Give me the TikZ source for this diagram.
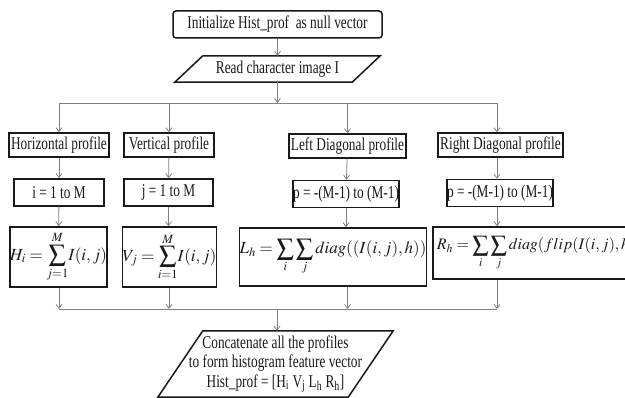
\documentclass[tikz,border=0pt]{standalone}
\usepackage{mathptmx}
\usepackage[no-math]{fontspec}
\setmainfont{Liberation Serif}[FakeStretch=0.74]
\usetikzlibrary{arrows.meta,calc}
\begin{document}
\begin{tikzpicture}[x=1pt,y=-1pt,
  box/.style={draw=black!90, line width=1.5pt, inner sep=0pt, text=black!90,
    font=\fontsize{18}{20}\selectfont},
  mbox/.style={box, font=\fontsize{17}{20}\selectfont},
  plain/.style={inner sep=0pt, text=black!90, font=\fontsize{18}{19.5}\selectfont, align=center},
  conn/.style={draw=black!50, line width=0.8pt},
  arr/.style={conn, -{Straight Barb[length=4pt,width=6pt]}}]
\path[use as bounding box] (0,0) rectangle (625,398);
\clip (0,0) rectangle (625,398);

% top
\node[box, rounded corners=3pt, minimum width=209, minimum height=27] (init) at (277.5,24.5) {Initialize Hist\_prof\ \ as null vector};
\node[plain, minimum width=177, minimum height=26] (read) at (277.5,69) {Read character image I};
\draw[line width=1.5pt, black!90] ($(read.south west)+(-14,0)$) -- ($(read.north west)+(14,0)$) -- ($(read.north east)+(14,0)$) -- ($(read.south east)+(-14,0)$) -- cycle;

% profiles
\node[box, minimum width=100, minimum height=24] (hp) at (59,145) {Horizontal profile};
\node[box, minimum width=90, minimum height=24] (vp) at (169,145) {Vertical profile};
\node[box, minimum width=117, minimum height=24] (ld) at (347.5,146) {Left Diagonal profile};
\node[box, minimum width=125, minimum height=24] (rd) at (500.5,145) {Right Diagonal profile};

% loops
\node[box, minimum width=90, minimum height=27] (lp1) at (59,192.5) {i = 1 to M};
\node[box, minimum width=89, minimum height=27] (lp2) at (168.5,192.5) {j = 1 to M};
\node[box, minimum width=106, minimum height=27] (lp3) at (346,194) {p = -(M-1) to (M-1)};
\node[box, minimum width=106, minimum height=27] (lp4) at (500,193) {p = -(M-1) to (M-1)};

% formulas
\node[mbox, minimum width=93, minimum height=60] (fh) at (58.5,257) {$\displaystyle H_i=\sum_{j=1}^{M}\! I(i,j)$};
\node[mbox, minimum width=91, minimum height=60] (fv) at (169.5,257) {$\displaystyle V_j=\sum_{i=1}^{M}\! I(i,j)$};
\node[mbox, minimum width=180, minimum height=58] (fl) at (333,257) {$\displaystyle L_h=\sum_{i}\sum_{j} diag((I(i,j),h))$};
\node[mbox, font=\fontsize{16}{19}\selectfont, anchor=west, inner xsep=4pt, minimum height=52] (fr) at (432,253) {$\displaystyle R_h=\sum_{i}\sum_{j} diag(flip(I(i,j),h))$};

% bottom
\node[plain, minimum width=190, minimum height=66] (conc) at (275.5,364) {Concatenate all the profiles\\to form histogram feature vector\\Hist\_prof = [H\textsubscript{i} V\textsubscript{j} L\textsubscript{h} R\textsubscript{h}]};
\draw[line width=1.5pt, black!90] ($(conc.south west)+(-22.5,0)$) -- ($(conc.north west)+(22.5,0)$) -- ($(conc.north east)+(22.5,0)$) -- ($(conc.south east)+(-22.5,0)$) -- cycle;

% connectors
\coordinate (b1m) at (277.5,103);
\coordinate (b1l) at (59,103);
\coordinate (b1r) at (497,103);
\coordinate (b2m) at (277,309);
\coordinate (b2l) at (59,309);
\coordinate (b2r) at (497,309);

\draw[arr] (init) -- (read);
\draw[arr] (read.south) -- (b1m);
\draw[conn] (b1l) -- (b1r);
\draw[arr] (b1l) -- (b1l |- hp.north);
\draw[arr] (vp.north |- b1l) -- (vp.north);
\draw[arr] (ld.north |- b1l) -- (ld.north);
\draw[arr] (b1r) -- (b1r |- rd.north);

\draw[arr] (hp) -- (lp1);
\draw[arr] (vp) -- (lp2);
\draw[arr] (ld) -- (lp3);
\draw[arr] (b1r |- rd.south) -- (b1r |- lp4.north);

\draw[arr] (lp1) -- (fh);
\draw[arr] (lp2) -- (fv.north -| lp2);
\draw[arr] (lp3) -- (fl.north -| lp3);
\draw[arr] (b1r |- lp4.south) -- (b1r |- fr.north);

\draw[conn] (b2l) -- (b2r);
\draw[arr] (b2l |- fh.south) -- (b2l);
\draw[arr] (vp.south |- fv.south) -- (vp.south |- b2l);
\draw[arr] (ld.south |- fl.south) -- (ld.south |- b2l);
\draw[arr] (b2r |- fr.south) -- (b2r);
\draw[arr] (b2m) -- (b2m |- conc.north);
\end{tikzpicture}
\end{document}
